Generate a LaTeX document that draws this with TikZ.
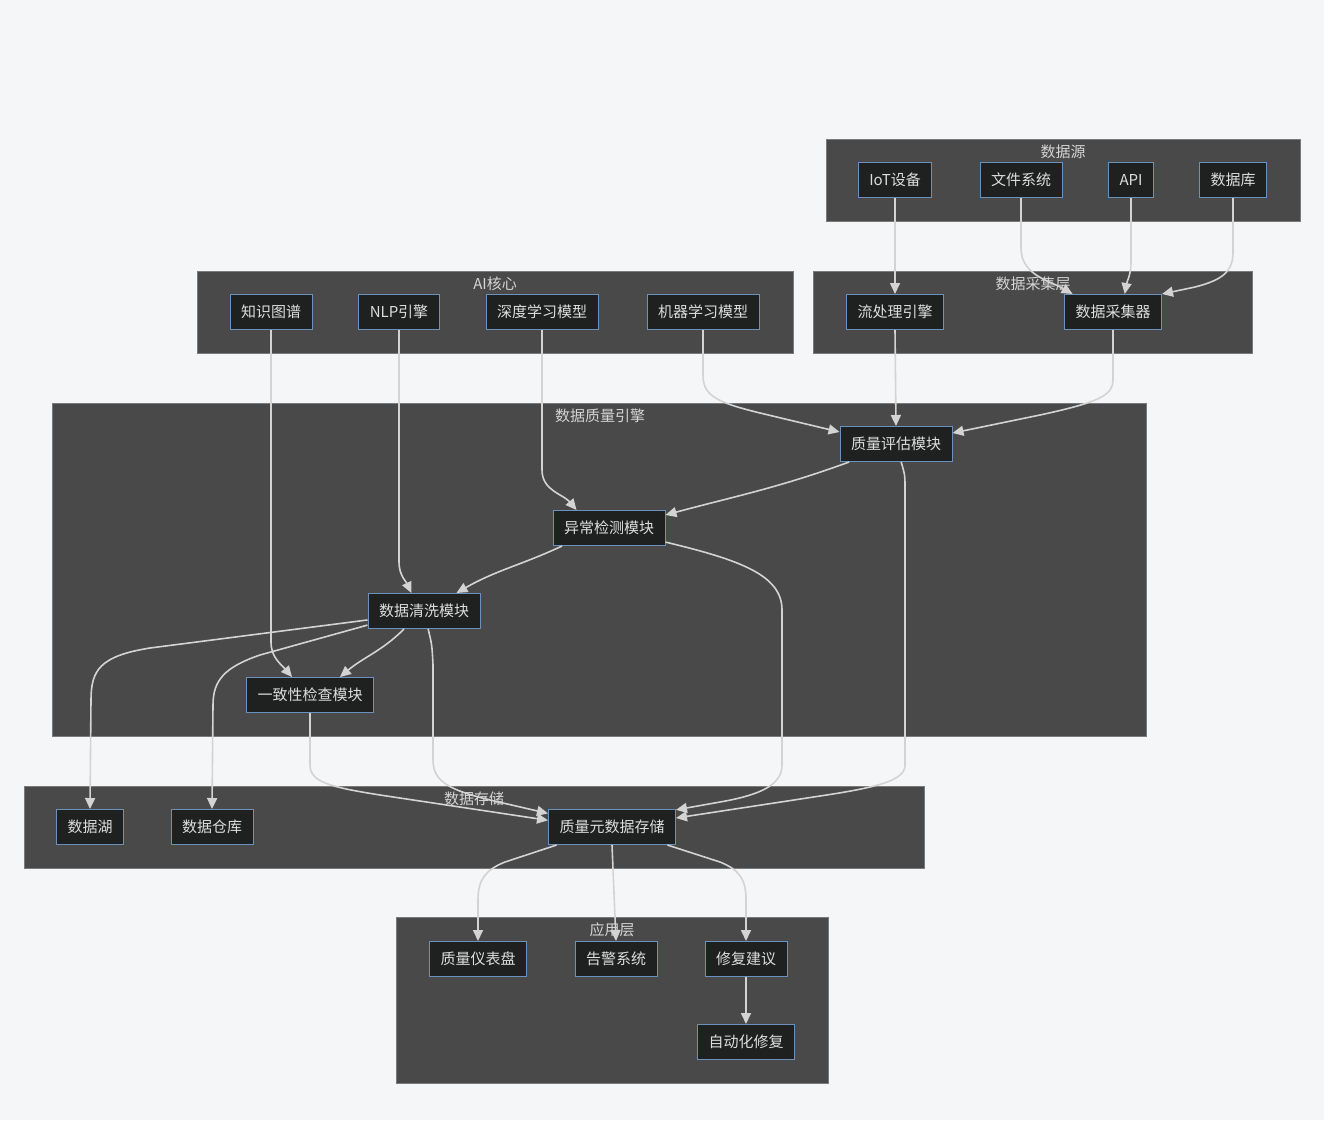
\documentclass[tikz,border=0pt]{standalone}
\usepackage{fontspec}
\setmainfont{Noto Sans CJK SC}
\usetikzlibrary{arrows.meta}

\definecolor{hintergrund}{HTML}{F5F6F8}
\definecolor{gruppe}{HTML}{484948}
\definecolor{gruppelinie}{HTML}{7A7A7A}
\definecolor{knoten}{HTML}{1F2020}
\definecolor{knotenlinie}{HTML}{6A92BD}
\definecolor{schrift}{HTML}{DDDDDD}
\definecolor{pfeil}{HTML}{D3D3D3}

\tikzset{
  kasten/.style={draw=knotenlinie, fill=knoten, line width=1pt, text=schrift,
    minimum height=35pt, inner xsep=11pt, inner ysep=0pt,
    font=\fontsize{15}{18}\selectfont},
  gruppenrand/.style={draw=gruppelinie, fill=gruppe, line width=1pt},
  titel/.style={text=schrift!90!gray, font=\fontsize{15}{18}\selectfont},
  fluss/.style={draw=pfeil, line width=1.6pt, -{Triangle[length=11pt,width=10pt]}}
}

\begin{document}
\begin{tikzpicture}[x=1pt,y=-1pt]
        \useasboundingbox[fill=hintergrund] (0,0) rectangle (1324,1120);

        % gruppen
        \path[gruppenrand] (826,139) rectangle (1300,221);
        \path[gruppenrand] (197,271) rectangle (793,353);
        \path[gruppenrand] (813,271) rectangle (1252,353);
        \path[gruppenrand] (52,403) rectangle (1146,736);
        \path[gruppenrand] (24,786) rectangle (924,868);
        \path[gruppenrand] (396,917) rectangle (828,1083);

        % gruppentitel
        \node[titel] (t1) at (1063,152) {数据源};
        \node[titel] (t2) at (495,284) {AI核心};
        \node[titel] (t3) at (1033,284) {数据采集层};
        \node[titel] (t4) at (600,416) {数据质量引擎};
        \node[titel] (t5) at (474,799) {数据存储};
        \node[titel] (t6) at (612,930) {应用层};

        % datenquellen
        \node[kasten] (iot) at (895,180) {IoT设备};
        \node[kasten] (datei) at (1021,180) {文件系统};
        \node[kasten] (api) at (1131,180) {API};
        \node[kasten] (db) at (1233,180) {数据库};

        % ki kern
        \node[kasten] (wissen) at (271,312) {知识图谱};
        \node[kasten] (nlp) at (399,312) {NLP引擎};
        \node[kasten] (tief) at (542,312) {深度学习模型};
        \node[kasten] (ml) at (703,312) {机器学习模型};

        % erfassung
        \node[kasten] (strom) at (895,312) {流处理引擎};
        \node[kasten] (sammler) at (1113,312) {数据采集器};

        % qualitaet
        \node[kasten] (bewert) at (896,444) {质量评估模块};
        \node[kasten] (anomal) at (609,528) {异常检测模块};
        \node[kasten] (reinig) at (424,611) {数据清洗模块};
        \node[kasten] (konsist) at (310,695) {一致性检查模块};

        % speicher
        \node[kasten] (see) at (90,827) {数据湖};
        \node[kasten] (lager) at (212,827) {数据仓库};
        \node[kasten] (meta) at (612,827) {质量元数据存储};

        % anwendung
        \node[kasten] (tafel) at (478,959) {质量仪表盘};
        \node[kasten] (alarm) at (616,959) {告警系统};
        \node[kasten] (rat) at (746,959) {修复建议};
        \node[kasten] (auto) at (746,1042) {自动化修复};

        % pfeile oben
        \draw[fluss] (iot.south) -- (strom.north);
        \draw[fluss] (datei.south) -- (1021,248) to[out=-90,in=150] (sammler.156);
        \draw[fluss] (api.south) -- (1131,262) to[out=-90,in=80] (sammler.57);
        \draw[fluss] (db.south) -- (1233,252) .. controls (1233,272) and (1222,280) .. (1195,287) -- (sammler.north east);

        % pfeile zur bewertung
        \draw[fluss] (ml.south) -- (703,375) .. controls (703,395) and (715,402) .. (760,413) -- (bewert.168);
        \draw[fluss] (strom.south) -- (bewert.north);
        \draw[fluss] (sammler.south) -- (1113,380) .. controls (1113,395) and (1100,402) .. (1040,415) -- (bewert.11);

        % pfeile im motor
        \draw[fluss] (tief.south) -- (542,470) to[out=-90,in=130] (anomal.151);
        \draw[fluss] (bewert.201) to[out=-160,in=15] (anomal.13);
        \draw[fluss] (nlp.south) -- (399,562) to[out=-90,in=115] (reinig.125);
        \draw[fluss] (anomal.201) to[out=-155,in=30] (reinig.29);
        \draw[fluss] (wissen.south) -- (271,642) to[out=-90,in=130] (konsist.135);
        \draw[fluss] (reinig.222) to[out=-135,in=40] (konsist.31);

        % pfeile zum speicher
        \draw[fluss] (reinig.189) -- (150,648) .. controls (100,656) and (91,670) .. (91,700) -- (see.north);
        \draw[fluss] (reinig.194) -- (260,655) .. controls (225,667) and (213,680) .. (213,705) -- (lager.north);
        \draw[fluss] (reinig.-77) .. controls (432,645) .. (433,665) -- (433,760) .. controls (433,782) and (450,790) .. (490,800) -- (meta.168);
        \draw[fluss] (konsist.south) -- (310,765) .. controls (310,782) and (330,787) .. (380,795) -- (meta.174);
        \draw[fluss] (anomal.-14) .. controls (740,560) and (782,575) .. (782,610) -- (782,765) .. controls (782,785) and (760,795) .. (720,802) -- (meta.15);
        \draw[fluss] (bewert.-74) .. controls (905,475) .. (905,490) -- (905,765) .. controls (905,780) and (880,787) .. (820,796) -- (meta.8);

        % pfeile zur anwendung
        \draw[fluss] (meta.198) -- (505,862) .. controls (485,870) and (478,880) .. (478,900) -- (tafel.north);
        \draw[fluss] (meta.south) -- (alarm.north);
        \draw[fluss] (meta.-18) -- (720,862) .. controls (740,870) and (746,880) .. (746,900) -- (rat.north);
        \draw[fluss] (rat.south) -- (auto.north);
    \end{tikzpicture}
\end{document}
